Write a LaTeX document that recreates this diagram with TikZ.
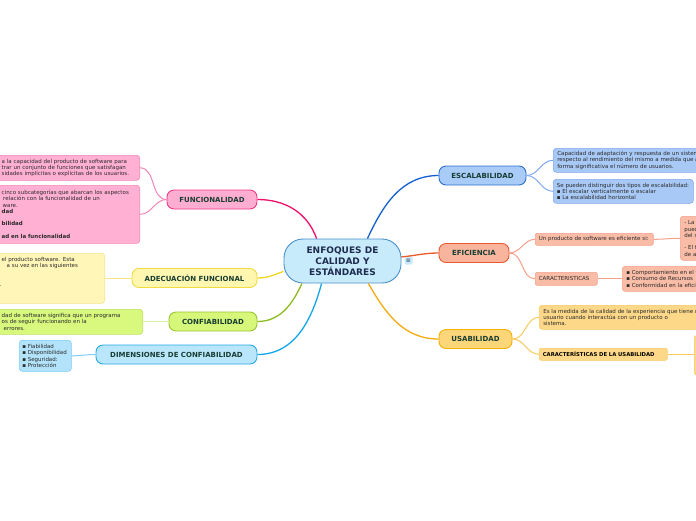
\documentclass[tikz,border=0pt]{standalone}
\usepackage{fontspec}
\setmainfont{DejaVu Sans}
\definecolor{cenF}{HTML}{C8EBFB}
\definecolor{cenB}{HTML}{4A90D0}
\definecolor{cenT}{HTML}{1E2D4F}
\definecolor{topT}{HTML}{173D33}
\definecolor{noteT}{HTML}{2A2A2A}
\definecolor{escF}{HTML}{A9CBF7}\definecolor{escB}{HTML}{2F6FD0}\definecolor{escL}{HTML}{1560D0}
\definecolor{escNF}{HTML}{A8C9F6}\definecolor{escNB}{HTML}{80AAF0}
\definecolor{effF}{HTML}{F8B49C}\definecolor{effB}{HTML}{E85A30}\definecolor{effL}{HTML}{EC5A28}
\definecolor{effNF}{HTML}{F9BCA6}\definecolor{effNB}{HTML}{F5A08A}
\definecolor{usF}{HTML}{FDD67A}\definecolor{usB}{HTML}{F5B000}\definecolor{usL}{HTML}{F5AA10}
\definecolor{usNF}{HTML}{FDD888}\definecolor{usNB}{HTML}{F9CA60}
\definecolor{funF}{HTML}{FFADD0}\definecolor{funB}{HTML}{EE3C88}\definecolor{funL}{HTML}{F0106C}
\definecolor{funNF}{HTML}{FFB0D3}\definecolor{funNB}{HTML}{F386B8}
\definecolor{adF}{HTML}{FFF6B0}\definecolor{adB}{HTML}{F0DC40}\definecolor{adL}{HTML}{F0D820}
\definecolor{adNF}{HTML}{FFF6B8}\definecolor{adNB}{HTML}{F7E48A}
\definecolor{coF}{HTML}{D6F77A}\definecolor{coB}{HTML}{9CC530}\definecolor{coL}{HTML}{8CBC20}
\definecolor{coNF}{HTML}{D8F87E}\definecolor{coNB}{HTML}{BDE25A}\definecolor{coTw}{HTML}{DCF0A8}
\definecolor{diF}{HTML}{B9E6FB}\definecolor{diB}{HTML}{28A8E8}\definecolor{diL}{HTML}{12A6EA}
\definecolor{diNF}{HTML}{B3E3FA}\definecolor{diNB}{HTML}{7CCDF3}
\tikzset{
  topic/.style={rounded corners=7pt, line width=0.9pt, inner sep=0pt, minimum height=19pt,
    font=\fontsize{7}{8}\selectfont\bfseries, text=topT},
  note/.style={rounded corners=3pt, line width=0.6pt, inner xsep=4pt, inner ysep=2pt, align=left,
    font=\fontsize{5.5}{6.3}\selectfont, text=noteT},
  trunk/.style={line width=1.3pt},
  twig/.style={line width=1pt},
}
\begin{document}
\begin{tikzpicture}[x=1pt,y=-1pt]
\useasboundingbox (0,0) rectangle (696,520);
\fill[white] (0,0) rectangle (696,520);
\clip (0,0) rectangle (696,520);

% centre
\node[draw=cenB, fill=cenF, line width=0.9pt, rounded corners=19pt, minimum width=117pt,
  minimum height=44pt, inner sep=0pt, align=center, font=\fontsize{9}{11}\selectfont\bfseries,
  text=cenT] (c) at (342.5,261) {ENFOQUES DE\\CALIDAD Y\\ESTÁNDARES};
\node[fill=cenF, rounded corners=1.5pt, minimum width=8pt, minimum height=8pt, inner sep=0pt,
  font=\fontsize{6}{6}\selectfont, text=cenT] (menu) at (408.5,260.5) {≡};

% topics
\node[topic, draw=escB, fill=escF, minimum width=87pt] (esc) at (482.5,175.5) {ESCALABILIDAD};
\node[topic, draw=effB, fill=effF, minimum width=70pt] (eff) at (474,253) {EFICIENCIA};
\node[topic, draw=usB, fill=usF, minimum width=73pt] (us) at (475.5,339) {USABILIDAD};
\node[topic, draw=funB, fill=funF, minimum width=90pt] (fun) at (212,199.5) {FUNCIONALIDAD};
\node[topic, draw=adB, fill=adF, minimum width=125pt] (ad) at (194.5,278) {ADECUACIÓN FUNCIONAL};
\node[topic, draw=coB, fill=coF, minimum width=88pt] (co) at (213,321.5) {CONFIABILIDAD};
\node[topic, draw=diB, fill=diF, minimum width=161pt] (di) at (176.5,354.5) {DIMENSIONES DE CONFIABILIDAD};

% right notes
\node[note, draw=escNB, fill=escNF, anchor=north west, text width=260pt, minimum height=24pt] (esc1) at (553,148)
 {Capacidad de adaptación y respuesta de un sistema con\\respecto al rendimiento del mismo a medida que aumenta de\\forma significativa el número de usuarios.};
\node[note, draw=escNB, fill=escNF, anchor=north west, inner xsep=3.5pt, text width=133pt, minimum height=24pt] (esc2) at (553,179)
 {Se pueden distinguir dos tipos de escalabilidad:\\▪ El escalar verticalmente o escalar\\▪ La escalabilidad horizontal};
\node[note, draw=effNB, fill=effNF, anchor=north west, inner xsep=3.5pt, text width=111pt, minimum height=12pt, rounded corners=2pt] (ef1) at (535,233)
 {Un producto de software es eficiente si:};
\node[note, draw=effNB, fill=effNF, anchor=north west, text width=120pt, minimum height=44pt] (ef1a) at (680,216)
 {- La utilización de recursos\\puede ser medida en términos\\del sistema.\\\mbox{}\\- El tiempo de respuesta\\de acuerdo con las tareas.};
\node[note, draw=effNB, fill=effNF, anchor=north west, inner xsep=3.5pt, text width=55pt, minimum height=13pt, rounded corners=2pt] (ef2) at (535,272)
 {CARACTERISTICAS};
\node[note, draw=effNB, fill=effNF, anchor=north west, text width=150pt, minimum height=25pt] (ef2a) at (622,266)
 {▪ Comportamiento en el tiempo\\▪ Consumo de Recursos\\▪ Conformidad en la eficiencia};
\node[note, draw=usNB, fill=usNF, anchor=north west, text width=260pt, minimum height=24pt] (us1) at (539,305)
 {Es la medida de la calidad de la experiencia que tiene un\\usuario cuando interactúa con un producto o\\sistema.};
\node[note, draw=usNB, fill=usNF, anchor=north west, inner xsep=3.5pt, text width=121pt, minimum height=12pt, rounded corners=2pt,
  font=\fontsize{5.3}{6.3}\selectfont\bfseries, text=black] (us2) at (539,348)
 {CARACTERÍSTICAS DE LA USABILIDAD};
\node[note, draw=usNB, fill=usNF, anchor=north west, text width=60pt, minimum height=40pt] (us2a) at (694,335) {};

% left notes
\node[note, draw=funNB, fill=funNF, anchor=north east, text width=134pt, minimum height=25pt] (fun1) at (140,155)
 {a la capacidad del producto de software para\\trar un conjunto de funciones que satisfagan\\sidades implícitas o explícitas de los usuarios.};
\node[note, draw=funNB, fill=funNF, anchor=north east, text width=134pt, minimum height=58pt] (fun2) at (140,185)
 {cinco subcategorías que abarcan los aspectos\\\hspace{1.5pt}relación con la funcionalidad de un\\\hspace{1pt}ware.\\\textbf{dad}\\\mbox{}\\\textbf{bilidad}\\\mbox{}\\\textbf{ad en la funcionalidad}};
\node[note, draw=adNB, fill=adNF, anchor=north east, text width=99pt, minimum height=50pt] (ad1) at (105,253)
 {el producto software. Esta\\\hspace{5pt}a su vez en las siguientes\\\mbox{}\\\mbox{}\\\hspace{-2pt}.\\\mbox{}\\\mbox{}};
\node[note, draw=coNB, fill=coNF, anchor=north east, text width=137pt, minimum height=25pt] (co1) at (143,309)
 {dad de software significa que un programa\\os de seguir funcionando en la\\\hspace{2pt}errores.};
\node[note, draw=diNB, fill=diNF, anchor=north west, inner xsep=3pt, text width=46pt, minimum height=31pt] (di1) at (19,340)
 {▪ Fiabilidad\\▪ Disponibilidad\\▪ Seguridad:\\▪ Protección};

% trunks
\draw[trunk, escL] (c.42) to[out=65,in=180] (esc.west);
\draw[trunk, effL] (c.4) to[out=5,in=180] (eff.west);
\draw[trunk, usL] (c.-41) to[out=-60,in=180] (us.west);
\draw[trunk, funL] (c.139) to[out=110,in=0] (fun.east);
\draw[trunk, adL] (c.190) to[out=200,in=0] (ad.east);
\draw[trunk, coL] (c.209) to[out=-115,in=0] (co.east);
\draw[trunk, diL] (c.227) to[out=-105,in=0] (di.east);

% twigs
\draw[twig, escNB] (esc.east) to[out=0,in=180] (esc1.west);
\draw[twig, escNB] (esc.east) to[out=0,in=180] (esc2.west);
\draw[twig, effNB] (eff.east) to[out=0,in=180] (ef1.west);
\draw[twig, effNB] (eff.east) to[out=0,in=180] (ef2.west);
\draw[twig, effNB] (ef1.east) to[out=0,in=180] (ef1a.west);
\draw[twig, effNB] (ef2.east) -- (ef2a.west |- ef2.east);
\draw[twig, usNB] (us.east) to[out=0,in=180] (us1.west);
\draw[twig, usNB] (us.east) to[out=0,in=180] (us2.west);
\draw[twig, usNB] (us2.east) -- (us2a.west |- us2.east);
\draw[twig, funNB] (fun.west) to[out=180,in=0] (fun1.east);
\draw[twig, funNB] (fun.west) to[out=180,in=0] (fun2.east);
\draw[twig, adNB] (ad.west) -- (ad1.east |- ad.west);
\draw[twig, coTw] (co.west) -- (co1.east |- co.west);
\draw[twig, diNB] (di.west) to[out=180,in=0] (di1.east);
\end{tikzpicture}
\end{document}
